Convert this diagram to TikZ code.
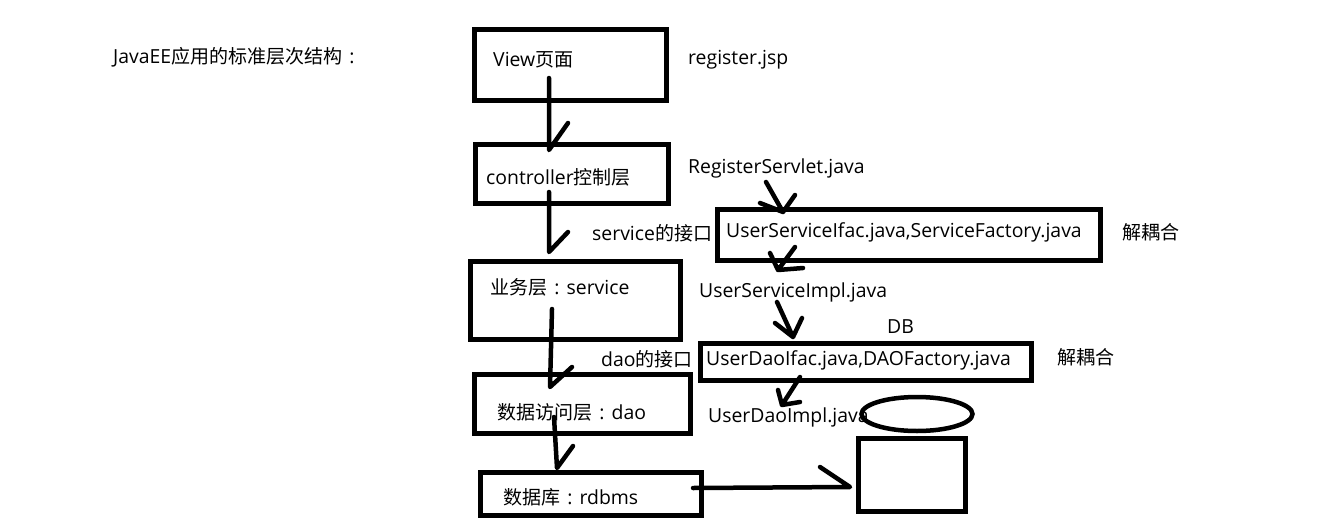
\documentclass[tikz,border=0pt]{standalone}
\usepackage{fontspec}
\setmainfont{Open Sans}
\newfontfamily\cjk{Noto Sans CJK SC}[Scale=0.98]
\newcommand{\zh}[1]{{\cjk #1}}
\newcommand{\fcolon}{\makebox[1em][c]{:}}
\begin{document}
\begin{tikzpicture}[x=1pt,y=-1pt,
  box/.style={draw, line width=5pt, inner sep=0pt},
  lbl/.style={anchor=west, inner sep=0pt, font=\fontsize{19.4}{22}\selectfont},
  stroke/.style={line width=4.5pt, line cap=round, line join=round}]
\useasboundingbox (0,0) rectangle (1324,530);
% boxes
\node[box, minimum width=192, minimum height=71] (view) at (570,64.5) {};
\node[box, minimum width=193, minimum height=59] (ctrl) at (571.5,173.5) {};
\node[box, minimum width=210, minimum height=78] (svc) at (575,300) {};
\node[box, minimum width=216, minimum height=59] (dao) at (582,403.5) {};
\node[box, minimum width=221, minimum height=43] (rdb) at (590.5,493.5) {};
\node[box, minimum width=383, minimum height=51] (usi) at (908.5,234.5) {};
\node[box, minimum width=331, minimum height=37] (udi) at (865.5,361.5) {};
\node[box, minimum width=107, minimum height=73] (dbrect) at (911.5,474.5) {};
% texts
\node[lbl] (title) at (113,57) {JavaEE\zh{应用的标准层次结构}\fcolon};
\node[lbl] (tview) at (493,60) {View\zh{页面}};
\node[lbl] (tctrl) at (486,177) {controller\zh{控制层}};
\node[lbl] (tsif) at (592,233) {service\zh{的接口}};
\node[lbl] (tsvc) at (490,287) {\zh{业务层}\fcolon service};
\node[lbl] (tdif) at (601,359) {dao\zh{的接口}};
\node[lbl] (tdao) at (497,412) {\zh{数据访问层}\fcolon dao};
\node[lbl] (trdb) at (503,497) {\zh{数据库}\fcolon rdbms};
\node[lbl] (tjsp) at (688,60) {register.jsp};
\node[lbl] (tservlet) at (688,168) {RegisterServlet.java};
\node[lbl] (tusi) at (726,232) {UserServiceIfac.java,ServiceFactory.java};
\node[lbl] (tdec1) at (1122,232) {\zh{解耦合}};
\node[lbl] (tusimpl) at (699,292) {UserServiceImpl.java};
\node[lbl] (tdb) at (887,327) {DB};
\node[lbl] (tudi) at (706,360) {UserDaoIfac.java,DAOFactory.java};
\node[lbl] (tdec2) at (1057,357) {\zh{解耦合}};
\node[lbl] (tudimpl) at (708,417) {UserDaoImpl.java};
% database top ellipse
\draw[line width=4.5pt] (917,414) ellipse [x radius=55.5, y radius=17];
% arrow coordinates
\coordinate (a1s) at (549,78);  \coordinate (a1t) at (549,150); \coordinate (a1b) at (568,123);
\coordinate (a2s) at (549,192); \coordinate (a2t) at (549,252); \coordinate (a2b) at (568,232);
\coordinate (a3s) at (552,309); \coordinate (a3t) at (550,387); \coordinate (a3b) at (572,367);
\coordinate (a4s) at (554,417); \coordinate (a4t) at (557,468); \coordinate (a4b) at (573,446);
\coordinate (a5s) at (693,488); \coordinate (a5t) at (850,487); \coordinate (a5b) at (820,467);
\coordinate (a6s) at (800,377); \coordinate (a6t) at (782,405); \coordinate (a6b) at (778,390); \coordinate (a6c) at (800,402);
\coordinate (a7s) at (766,182); \coordinate (a7t) at (783,212); \coordinate (a7b) at (760,203); \coordinate (a7c) at (795,195);
\coordinate (a8s) at (795,247); \coordinate (a8t) at (778,270); \coordinate (a8b) at (770,253); \coordinate (a8c) at (803,268);
\coordinate (a9s) at (777,302); \coordinate (a9t) at (793,337); \coordinate (a9b) at (775,323); \coordinate (a9c) at (802,318);
% arrows
\draw[stroke] (a1s) -- (a1t) -- (a1b);
\draw[stroke] (a2s) -- (a2t) -- (a2b);
\draw[stroke] (a3s) -- (a3t) -- (a3b);
\draw[stroke] (a4s) -- (a4t) -- (a4b);
\draw[stroke] (a5s) -- (a5t) -- (a5b);
\draw[stroke] (a6s) -- (a6t) (a6b) -- (a6t) -- (a6c);
\draw[stroke] (a7s) -- (a7t) (a7b) -- (a7t) -- (a7c);
\draw[stroke] (a8s) -- (a8t) (a8b) -- (a8t) -- (a8c);
\draw[stroke] (a9s) -- (a9t) (a9b) -- (a9t) -- (a9c);
\end{tikzpicture}
\end{document}
